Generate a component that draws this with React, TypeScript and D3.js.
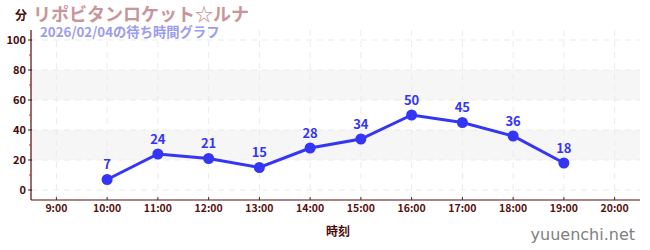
import React from "react";
import * as d3 from "d3";

const hours = [9, 10, 11, 12, 13, 14, 15, 16, 17, 18, 19, 20];
const pointHours = [10, 11, 12, 13, 14, 15, 16, 17, 18, 19];
const waitValues = [7, 24, 21, 15, 28, 34, 50, 45, 36, 18];
const yTicks = [0, 20, 40, 60, 80, 100];
const yMinorTicks = [10, 30, 50, 70, 90];
const bands = [[20, 40], [60, 80]];
const title = "リポビタンロケット☆ルナ";
const subtitle = "2026/02/04の待ち時間グラフ";
const yUnit = "分";
const xTitle = "時刻";
const watermark = "yuuenchi.net";

const W = 650, H = 250;
const left = 31, right = 640, top = 30, bottom = 200;
const FONT = "'Noto Sans CJK JP', 'Noto Sans', sans-serif";

export default function App() {
  const x = d3.scaleLinear().domain([8.5, 20.5]).range([left, right]);
  const y = d3.scaleLinear().domain([-6.667, 106.667]).range([bottom, top]);
  const line = d3.line<number>().x((_, i) => x(pointHours[i])).y((d) => y(d));
  const axisColor = "#5a0a0a";
  const lineColor = "#3535f5";
  return (
    <svg width={W} height={H} style={{ position: "absolute", left: 0, top: 0 }} fontFamily={FONT}>
      <rect x={0} y={0} width={W} height={H} fill="#fff" />
      {bands.map(([a, b], i) => (
        <rect key={i} x={left} y={y(b)} width={right - left} height={y(a) - y(b)} fill="#f6f6f6" />
      ))}
      {yTicks.map((t) => (
        <line key={t} x1={left} x2={right} y1={y(t)} y2={y(t)} stroke="#ebebeb" strokeDasharray="6,5" />
      ))}
      {hours.map((h) => (
        <line key={h} x1={x(h)} x2={x(h)} y1={top} y2={bottom} stroke="#ebebeb" strokeDasharray="6,5" />
      ))}
      {/* axes */}
      <line x1={left} x2={left} y1={top} y2={bottom} stroke={axisColor} strokeWidth={1.2} />
      <line x1={left} x2={right} y1={bottom} y2={bottom} stroke={axisColor} strokeWidth={1.2} />
      {yTicks.map((t) => (
        <g key={t}>
          <line x1={left - 3} x2={left + 1} y1={y(t)} y2={y(t)} stroke="#222" />
          <text x={left - 5} y={y(t)} dy="0.35em" textAnchor="end" fontSize={11} fontWeight="bold" fill="#4a0a0a">{t}</text>
        </g>
      ))}
      {yMinorTicks.map((t) => (
        <line key={t} x1={left - 2} x2={left} y1={y(t)} y2={y(t)} stroke="#e02020" />
      ))}
      {hours.map((h) => (
        <g key={h}>
          <line x1={x(h)} x2={x(h)} y1={bottom - 3} y2={bottom} stroke="#333" />
          <text x={x(h)} y={bottom + 12} textAnchor="middle" fontSize={10.5} fontWeight="bold" fill="#5a1010">{`${h}:00`}</text>
        </g>
      ))}
      <text x={338} y={236} textAnchor="middle" fontSize={12} fontWeight="bold" fill="#4a0a0a">{xTitle}</text>
      <text x={W - 15} y={240} textAnchor="end" fontSize={16} fill="#808080" fontFamily="'DejaVu Sans', sans-serif">{watermark}</text>
      {/* titles */}
      <text x={15} y={20} fontSize={12} fontWeight="bold" fill="#4a0a0a">{yUnit}</text>
      <text x={33} y={21} fontSize={18} fontWeight="bold" fill="#c9959a">{title}</text>
      <text x={40} y={36.5} fontSize={13.3} fontWeight="bold" fill="#9c9cf0">{subtitle}</text>
      {/* series */}
      <path d={line(waitValues) || ""} fill="none" stroke={lineColor} strokeWidth={3} />
      {waitValues.map((v, i) => (
        <g key={i}>
          <circle cx={x(pointHours[i])} cy={y(v)} r={5.5} fill={lineColor} />
          <text x={x(pointHours[i])} y={y(v) - 10} textAnchor="middle" fontSize={13} fontWeight="bold" fill={lineColor}>{v}</text>
        </g>
      ))}
    </svg>
  );
}
